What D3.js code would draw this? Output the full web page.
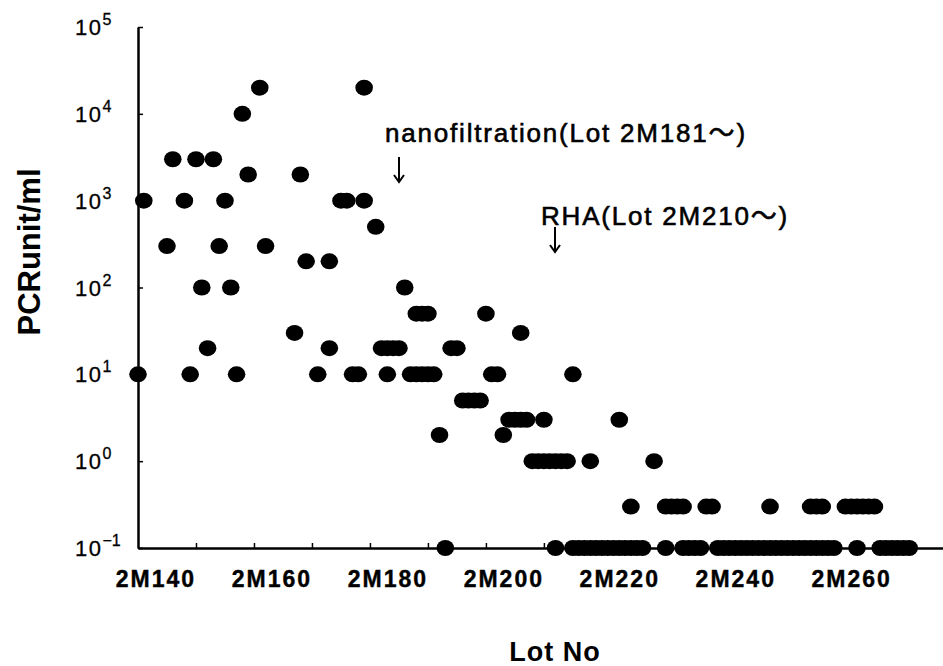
<!doctype html>
<html>
<meta charset="utf-8">
<style>
body { margin: 0; padding: 0; background: #fff; }
svg text { fill: #000; }
.xlab { font-family: 'Liberation Sans', Arial, sans-serif; font-weight: bold; font-size: 23px; letter-spacing: 2px; stroke: #000; stroke-width: 0.4px; }
.ylab { font-family: 'Liberation Sans', Arial, sans-serif; font-size: 22px; letter-spacing: 1.5px; stroke: #000; stroke-width: 0.3px; }
.title { font-family: 'Liberation Sans', Arial, sans-serif; font-weight: bold; }
.note { font-family: 'Liberation Sans', 'Noto Sans CJK JP', sans-serif; font-size: 26px; letter-spacing: 1.8px; stroke: #000; stroke-width: 0.6px; }
</style>
<body>
<svg width="943" height="666"></svg>
<script src="https://cdn.jsdelivr.net/npm/d3@7"></script>
<script>

// lot number (2Mxxx) and PCR unit/ml
var lots = [
  137,138,142,143,145,146,147,148,149,150,151,152,153,154,155,156,158,159,
  164,165,166,168,170,170,172,173,174,175,176,176,178,
  179,180,180,181,182,183,184,185,185,186,186,187,187,188,189,190,191,192,
  193,194,195,196,197,198,199,200,201,202,203,203,204,205,206,207,207,208,209,209,210,211,
  212,212,213,214,215,215,216,217,218,219,220,220,221,222,222,223,224,226,228,228,229,230,231,231,232,233,234,235,236,
  237,238,239,240,241,242,243,244,245,246,246,247,248,249,250,251,252,253,253,254,254,255,255,256,257,259,260,261,261,262,263,264,265,266,267,268,269,270
];
var pcr = [
  10,1000,300,3000,1000,10,3000,100,20,3000,300,1000,100,10,10000,2000,20000,300,
  30,2000,200,10,200,20,1000,1000,10,10,1000,20000,500,
  20,20,10,20,20,100,10,10,50,10,50,10,50,10,2,0.1,20,20,
  5,5,5,5,50,10,10,2,3,3,3,30,3,1,1,1,3,1,1,0.1,1,1,
  10,0.1,0.1,0.1,0.1,1,0.1,0.1,0.1,0.1,0.1,3,0.1,0.1,0.3,0.1,0.1,1,0.3,0.1,0.3,0.3,0.3,0.1,0.1,0.1,0.1,0.3,0.3,
  0.1,0.1,0.1,0.1,0.1,0.1,0.1,0.1,0.1,0.1,0.3,0.1,0.1,0.1,0.1,0.1,0.1,0.1,0.3,0.1,0.3,0.1,0.3,0.1,0.1,0.3,0.3,0.3,0.1,0.3,0.3,0.3,0.1,0.1,0.1,0.1,0.1,0.1
];

var labelLots = [140, 160, 180, 200, 220, 240, 260];
var tickLots = [147, 157, 167, 177, 187, 197, 207, 217, 227, 237, 247, 257, 267];
var yTicks = [1e-1, 1, 10, 1e2, 1e3, 1e4, 1e5];
var yExp = ["\u22121", "0", "1", "2", "3", "4", "5"];

var svg = d3.select("svg");

var x = d3.scaleLinear().domain([137, 276]).range([138, 944]);
var y = d3.scaleLog().domain([0.1, 1e5]).range([548, 27]);

// x axis: line + small inward ticks
var xAxis = svg.append("g")
    .attr("transform", "translate(0," + y(0.1) + ")")
    .call(d3.axisBottom(x).tickValues(tickLots).tickSize(-5).tickSizeOuter(0).tickFormat(""));
xAxis.select(".domain").attr("stroke-width", 2.5);
xAxis.selectAll(".tick line").attr("stroke-width", 1.5);

var xLabels = svg.append("g")
    .attr("transform", "translate(0," + y(0.1) + ")")
    .call(d3.axisBottom(x).tickValues(labelLots).tickSize(0).tickFormat(function(d) { return "2M" + d; }));
xLabels.select(".domain").remove();
xLabels.selectAll("text")
    .attr("class", "xlab")
    .attr("y", 39)
    .attr("dy", null)
    .attr("font-size", null)
    .attr("font-family", null);

// y axis: line + inward ticks
var yAxis = svg.append("g")
    .attr("transform", "translate(" + x(137) + ",0)")
    .call(d3.axisRight(y).tickValues(yTicks).tickSize(5).tickSizeOuter(0).tickFormat(""));
yAxis.select(".domain").attr("stroke-width", 2.5);
yAxis.selectAll(".tick line").attr("stroke-width", 1.5);

var yl = svg.append("g").selectAll("text")
    .data(yTicks)
    .join("text")
    .attr("class", "ylab")
    .attr("x", 75)
    .attr("y", function(d) { return y(d) + 8; });
yl.append("tspan").text("10");
yl.append("tspan")
    .attr("dy", -10)
    .attr("font-size", 16)
    .attr("letter-spacing", 0)
    .text(function(d, i) { return yExp[i]; });

// points
svg.append("g").selectAll("ellipse")
    .data(d3.zip(lots, pcr))
    .join("ellipse")
    .attr("cx", function(d) { return x(d[0]); })
    .attr("cy", function(d) { return y(d[1]); })
    .attr("rx", 8.8)
    .attr("ry", 8)
    .attr("fill", "#000");

// axis titles
svg.append("text")
    .attr("class", "title")
    .attr("transform", "translate(40,252) rotate(-90)")
    .attr("text-anchor", "middle")
    .attr("font-size", 31)
    .text("PCRunit/ml");

svg.append("text")
    .attr("class", "title")
    .attr("x", 555)
    .attr("y", 661)
    .attr("text-anchor", "middle")
    .attr("font-size", 27)
    .attr("letter-spacing", 1)
    .text("Lot No");

// annotations
svg.append("text").attr("class", "note").attr("x", 385).attr("y", 142)
    .text("nanofiltration(Lot 2M181\uFF5E)");
svg.append("text").attr("class", "note").attr("x", 541).attr("y", 225)
    .text("RHA(Lot 2M210\uFF5E)");

function arrow(ax, y0, y1) {
  svg.append("path")
      .attr("d", "M" + ax + "," + y0 + "V" + y1 + "M" + (ax - 5) + "," + (y1 - 7) + "L" + ax + "," + y1 + "L" + (ax + 5) + "," + (y1 - 7))
      .attr("fill", "none")
      .attr("stroke", "#000")
      .attr("stroke-width", 2);
}
arrow(399, 157, 182);
arrow(555, 227, 252);

</script>
</body>
</html>
